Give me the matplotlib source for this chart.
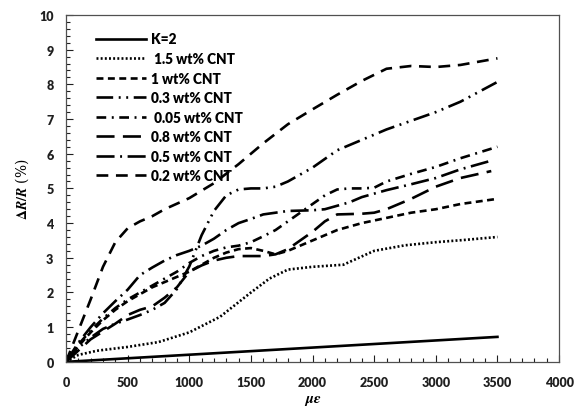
import numpy as np
import matplotlib.pyplot as plt
import matplotlib
from matplotlib.ticker import MultipleLocator

matplotlib.rcParams.update({'font.family': ['Lato', 'DejaVu Sans'],
                            'font.weight': 'bold',
                            'mathtext.fontset': 'stix',
                            'lines.scale_dashes': False})

# strain (micro-strain) and resistance change (%)
x_k2 = [0, 3500]
y_k2 = [0, 0.72]

x_15 = [0, 100, 250, 500, 750, 1000, 1250, 1500, 1650, 1800, 2000, 2250, 2500, 2750, 3000, 3250, 3500]
y_15 = [0, 0.2, 0.32, 0.43, 0.57, 0.85, 1.3, 2.0, 2.4, 2.66, 2.74, 2.8, 3.2, 3.36, 3.45, 3.52, 3.6]

x_1 = [0, 100, 200, 300, 400, 500, 600, 700, 800, 900, 1000, 1100, 1200, 1300, 1400, 1500,
       1600, 1700, 1800, 2000, 2200, 2400, 2600, 2800, 3000, 3200, 3500]
y_1 = [0, 0.45, 0.85, 1.2, 1.5, 1.75, 1.95, 2.15, 2.3, 2.45, 2.6, 2.8, 3.0, 3.15, 3.25, 3.28,
       3.2, 3.1, 3.2, 3.5, 3.8, 4.0, 4.15, 4.3, 4.4, 4.55, 4.7]

x_03 = [0, 100, 200, 300, 400, 500, 600, 700, 800, 900, 1000, 1100, 1200, 1300, 1400, 1500,
        1600, 1700, 1800, 2000, 2200, 2400, 2600, 2800, 3000, 3200, 3500]
y_03 = [0, 0.4, 0.7, 0.95, 1.1, 1.22, 1.35, 1.5, 1.7, 2.1, 2.75, 3.65, 4.35, 4.8, 4.97, 5.0,
        5.0, 5.05, 5.2, 5.6, 6.1, 6.4, 6.7, 6.95, 7.2, 7.5, 8.07]

x_005 = [0, 100, 200, 300, 400, 500, 600, 700, 800, 900, 1000, 1100, 1200, 1300, 1400, 1500,
         1600, 1700, 1800, 1900, 2000, 2100, 2200, 2300, 2400, 2500, 2600, 2800, 3000, 3200, 3500]
y_005 = [0, 0.5, 0.9, 1.25, 1.55, 1.8, 2.0, 2.2, 2.4, 2.6, 2.85, 3.05, 3.2, 3.3, 3.35, 3.45,
         3.62, 3.8, 4.05, 4.3, 4.55, 4.8, 4.97, 5.0, 5.0, 5.02, 5.2, 5.42, 5.62, 5.87, 6.2]

x_08 = [0, 200, 400, 500, 600, 700, 800, 900, 1000, 1100, 1200, 1300, 1400, 1500, 1600, 1700,
        1800, 1900, 2000, 2100, 2200, 2400, 2500, 2600, 2800, 3000, 3200, 3450]
y_08 = [0, 0.65, 1.1, 1.35, 1.5, 1.6, 1.85, 2.15, 2.6, 2.78, 2.92, 3.0, 3.05, 3.05, 3.05, 3.1,
        3.25, 3.5, 3.75, 4.05, 4.25, 4.27, 4.3, 4.4, 4.7, 5.05, 5.3, 5.5]

x_05 = [0, 100, 200, 300, 400, 500, 600, 700, 800, 900, 1000, 1100, 1200, 1300, 1400, 1500,
        1600, 1700, 1800, 2000, 2100, 2200, 2300, 2400, 2600, 2800, 3000, 3200, 3450]
y_05 = [0, 0.55, 1.0, 1.4, 1.75, 2.08, 2.5, 2.72, 2.92, 3.08, 3.2, 3.35, 3.55, 3.8, 4.0, 4.12,
        4.25, 4.3, 4.35, 4.37, 4.4, 4.5, 4.6, 4.75, 4.95, 5.12, 5.3, 5.55, 5.8]

x_02 = [0, 50, 100, 200, 300, 400, 500, 600, 700, 800, 1000, 1200, 1400, 1600, 1800, 2000,
        2200, 2400, 2600, 2800, 3000, 3200, 3500]
y_02 = [0, 0.45, 0.9, 1.8, 2.74, 3.45, 3.85, 4.05, 4.2, 4.4, 4.72, 5.15, 5.7, 6.3, 6.85, 7.28,
        7.7, 8.1, 8.45, 8.53, 8.5, 8.56, 8.75]

SERIES = [
    ('K=2', x_k2, y_k2, '-'),
    (' 1.5 wt% CNT', x_15, y_15, (0, (1.4, 1.6))),
    ('1 wt% CNT', x_1, y_1, (0, (5, 3.2))),
    ('0.3 wt% CNT', x_03, y_03, (0, (12, 4, 1.4, 4, 1.4, 4))),
    (' 0.05 wt% CNT', x_005, y_005, (0, (7, 4, 1.4, 4))),
    ('0.8 wt% CNT', x_08, y_08, (0, (13, 6))),
    ('0.5 wt% CNT', x_05, y_05, (0, (13, 4, 1.4, 4))),
    ('0.2 wt% CNT', x_02, y_02, (0, (8.5, 5.5))),
]


def main():
    fig = plt.figure(figsize=(5.74, 4.10), dpi=100)
    ax = fig.add_axes([0.115, 0.115, 0.859, 0.846])

    for lbl, xs, ys, ls in SERIES:
        ax.plot(xs, ys, color='black', linestyle=ls, linewidth=1.9, label=lbl)

    ax.set_xlim((0, 4000))
    ax.set_ylim((0, 10))
    ax.xaxis.set_major_locator(MultipleLocator(500))
    ax.xaxis.set_minor_locator(MultipleLocator(100))
    ax.yaxis.set_major_locator(MultipleLocator(1))
    ax.yaxis.set_minor_locator(MultipleLocator(0.2))
    ax.tick_params(which='both', direction='in', top=False, right=False,
                   labelsize=9, colors='#202020')
    ax.tick_params(axis='x', which='major', pad=10)
    ax.tick_params(axis='y', which='major', pad=9)
    ax.tick_params(which='major', length=5, width=0.8)
    ax.tick_params(which='minor', length=3, width=0.8)
    for t in ax.get_xticklabels() + ax.get_yticklabels():
        t.set_fontweight('heavy')
    for sp in ax.spines.values():
        sp.set_color('#505050')
        sp.set_linewidth(0.9)

    ax.set_xlabel(r'$\mu\varepsilon$', fontsize=11, labelpad=4)
    ax.set_ylabel(r'$\Delta R/R$ (%)', fontsize=10, fontfamily='serif',
                  fontweight='normal', labelpad=6)

    ax.legend(loc='upper left', bbox_to_anchor=(0.035, 0.985), frameon=False,
              handlelength=3.7, handletextpad=0.4, labelspacing=0.48,
              prop={'size': 9.8, 'weight': 'heavy'})

    fig.savefig('out.png', dpi=100)


if __name__ == '__main__':
    main()
